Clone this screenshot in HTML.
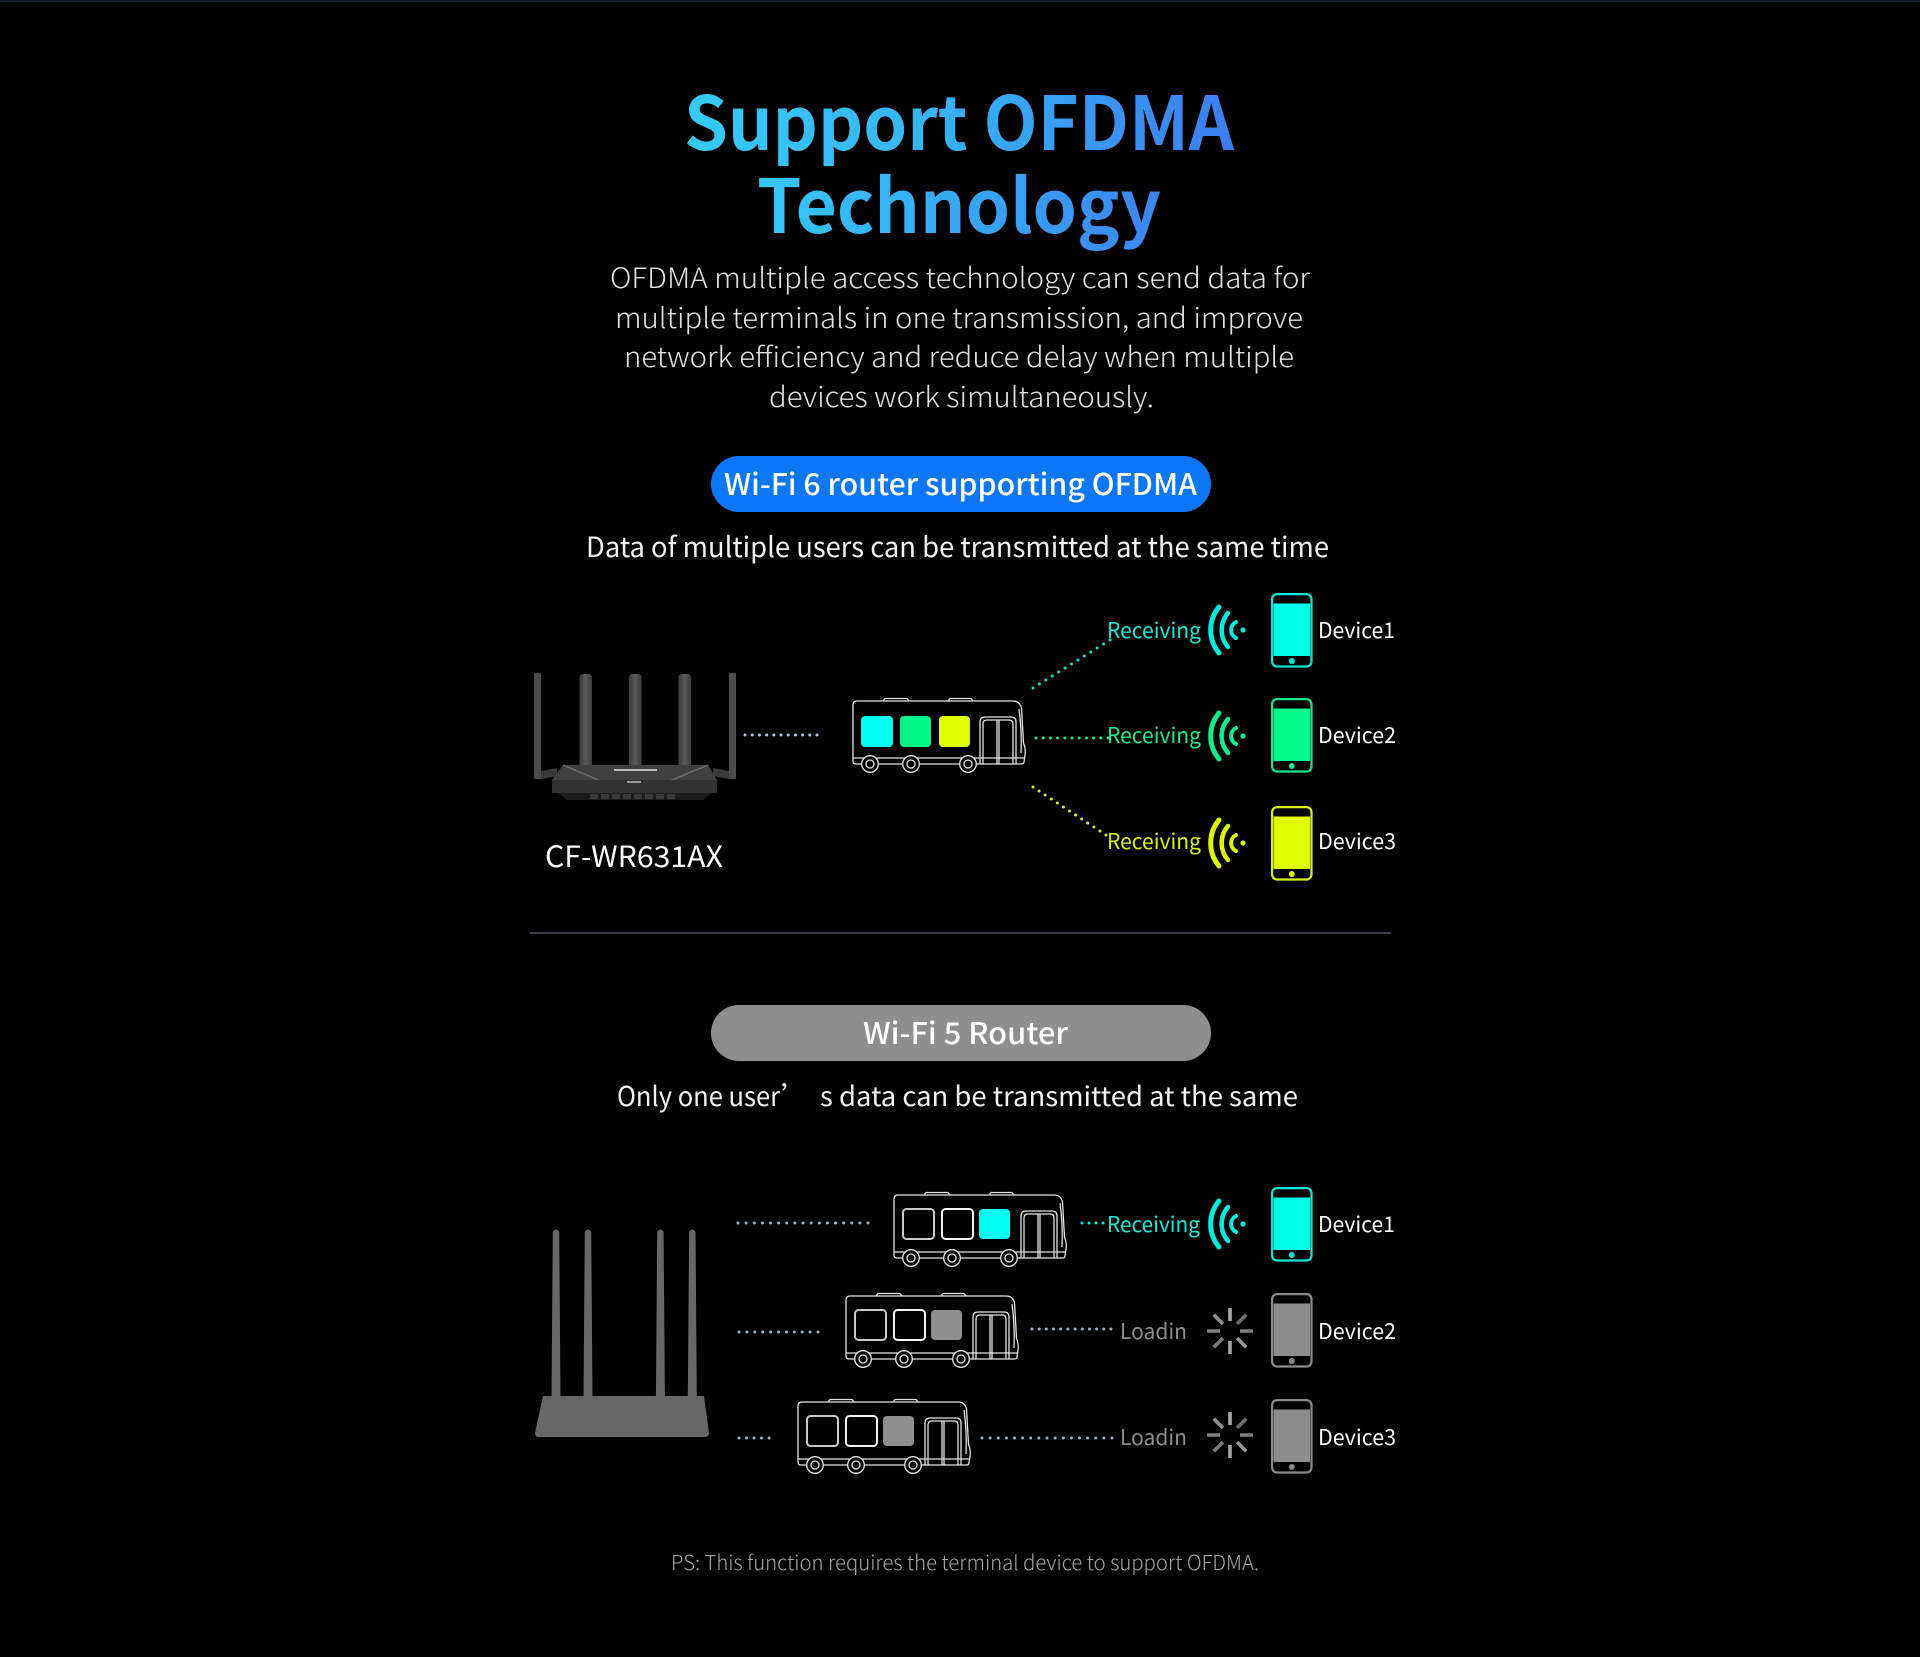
<!DOCTYPE html>
<html><head><meta charset="utf-8">
<style>
html,body{margin:0;padding:0;background:#000;}
body{width:1920px;height:1657px;overflow:hidden;}
svg{display:block;}
text{font-family:"Noto Sans CJK SC","Liberation Sans",sans-serif;}
</style></head><body>
<svg width="1920" height="1657" viewBox="0 0 1920 1657" xmlns="http://www.w3.org/2000/svg" xmlns:xlink="http://www.w3.org/1999/xlink">
<defs>
<linearGradient id="t1" gradientUnits="userSpaceOnUse" x1="686" y1="0" x2="1232" y2="0">
<stop offset="0" stop-color="#36cbf8"/><stop offset="0.45" stop-color="#36b4f6"/><stop offset="1" stop-color="#3c7ef0"/></linearGradient>
<linearGradient id="t2" gradientUnits="userSpaceOnUse" x1="758" y1="0" x2="1160" y2="0">
<stop offset="0" stop-color="#34c9f7"/><stop offset="1" stop-color="#3b86f1"/></linearGradient>
<linearGradient id="ant" x1="0" y1="0" x2="1" y2="0">
<stop offset="0" stop-color="#3c3c3c"/><stop offset="0.5" stop-color="#5a5a5a"/><stop offset="1" stop-color="#3c3c3c"/></linearGradient>

<g id="busBody" fill="none" stroke="#e4e4e4" stroke-width="1.3">
 <path d="M4,0 H160 Q167,0 168.5,7 L170.5,42 Q173,48 172,54 L171,61 Q171,63 168,63 H3 Q0,63 0,60 V4 Q0,0 4,0 Z"/>
 <path d="M30,0 L32,-2.5 H54 L56,0 M95,0 L97,-2.5 H118 L120,0"/>
 <path d="M0,57 H171"/>
 <path d="M127,63 V21 Q127,16 132,16 H158 Q163,16 163,21 V63"/>
 <path d="M130,63 V23 Q130,19 134,19 H156 Q160,19 160,23 V63"/>
 <path d="M144,19 V63 M146,19 V63"/>
 <path d="M166,8 Q169,30 168,52"/>
 <circle cx="17" cy="63" r="8.3" fill="#000"/><circle cx="17" cy="63" r="4"/>
 <circle cx="58" cy="63" r="8.3" fill="#000"/><circle cx="58" cy="63" r="4"/>
 <circle cx="115" cy="63" r="8.3" fill="#000"/><circle cx="115" cy="63" r="4"/>
</g>

<g id="wifi" fill="none" stroke-linecap="round">
 <path d="M-24,-23 A36,36 0 0 0 -24,23" stroke-width="5"/>
 <path d="M-15,-17 A26,26 0 0 0 -15,17" stroke-width="4.5"/>
 <path d="M-7,-8 A9,9 0 0 0 -7,8" stroke-width="4"/>
</g>

<g id="spin" stroke-width="3.6">
 <line x1="0" y1="-10" x2="0" y2="-23" stroke="#a8a8a8"/>
 <line x1="7.1" y1="-7.1" x2="16.3" y2="-16.3" stroke="#6c6c6c"/>
 <line x1="10" y1="0" x2="23" y2="0" stroke="#7a7a7a"/>
 <line x1="7.1" y1="7.1" x2="16.3" y2="16.3" stroke="#959595"/>
 <line x1="0" y1="10" x2="0" y2="23" stroke="#a5a5a5"/>
 <line x1="-7.1" y1="7.1" x2="-16.3" y2="16.3" stroke="#7a7a7a"/>
 <line x1="-10" y1="0" x2="-23" y2="0" stroke="#7e7e7e"/>
 <line x1="-7.1" y1="-7.1" x2="-16.3" y2="-16.3" stroke="#8e8e8e"/>
</g>
</defs>

<rect x="0" y="0" width="1920" height="1657" fill="#000"/>
<rect x="0" y="0" width="1920" height="2" fill="#151a22"/>

<!-- Title -->
<text x="684" y="150" font-size="74" font-weight="700" textLength="550" lengthAdjust="spacingAndGlyphs" fill="url(#t1)">Support OFDMA</text>
<text x="757" y="233" font-size="74" font-weight="700" textLength="404" lengthAdjust="spacingAndGlyphs" fill="url(#t2)">Technology</text>

<!-- Paragraph -->
<g font-size="28" font-weight="300" fill="#e2e2e2">
<text x="610" y="288" textLength="700" lengthAdjust="spacingAndGlyphs">OFDMA multiple access technology can send data for</text>
<text x="615" y="328" textLength="688" lengthAdjust="spacingAndGlyphs">multiple terminals in one transmission, and improve</text>
<text x="624" y="367" textLength="670" lengthAdjust="spacingAndGlyphs">network efficiency and reduce delay when multiple</text>
<text x="769" y="407" textLength="385" lengthAdjust="spacingAndGlyphs">devices work simultaneously.</text>
</g>

<!-- Wi-Fi 6 pill -->
<rect x="711" y="456" width="500" height="56" rx="28" fill="#0c77f6"/>
<text x="724" y="495" font-size="30" font-weight="500" fill="#fff" textLength="473" lengthAdjust="spacingAndGlyphs">Wi-Fi 6 router supporting OFDMA</text>
<text x="586" y="557" font-size="28" fill="#f2f2f2" textLength="743" lengthAdjust="spacingAndGlyphs">Data of multiple users can be transmitted at the same time</text>

<!-- Top router -->
<g>
 <rect x="534" y="673" width="7" height="106" rx="1.5" fill="#4c4c4c"/>
 <rect x="729" y="673" width="7" height="106" rx="1.5" fill="#4c4c4c"/>
 <path d="M541,771 L557,768 L557,776 L541,779 Z" fill="#3a3a3a"/>
 <path d="M729,771 L713,768 L713,776 L729,779 Z" fill="#3a3a3a"/>
 <rect x="579.5" y="674" width="12.5" height="94" rx="3" fill="url(#ant)"/>
 <rect x="629" y="674" width="12.5" height="94" rx="3" fill="url(#ant)"/>
 <rect x="678.5" y="674" width="12.5" height="94" rx="3" fill="url(#ant)"/>
 <polygon points="563,765 708,765 717,780 552,780" fill="#404040"/>
 <path d="M563,765 L603,782 M708,765 L667,782" stroke="#707070" stroke-width="1.3"/>
 <rect x="552" y="780" width="165" height="13" fill="#323232"/>
 <polygon points="558,793 712,793 703,800 567,800" fill="#1c1c1c"/>
 <g fill="#3a3a3a">
  <rect x="590" y="794" width="8" height="5"/><rect x="601" y="794" width="8" height="5"/><rect x="612" y="794" width="8" height="5"/>
  <rect x="623" y="794" width="8" height="5"/><rect x="634" y="794" width="8" height="5"/><rect x="645" y="794" width="8" height="5"/>
  <rect x="656" y="794" width="8" height="5"/><rect x="667" y="794" width="8" height="5"/>
 </g>
 <rect x="614" y="769" width="43" height="2" fill="#bbbbbb"/>
 <rect x="627" y="781" width="14" height="2" fill="#999"/>
</g>
<text x="545" y="867" font-size="29" fill="#fff" textLength="178" lengthAdjust="spacingAndGlyphs">CF-WR631AX</text>

<!-- Top dotted lines -->
<g fill="none" stroke-width="3" stroke-linecap="round">
 <line x1="745" y1="735" x2="817.5" y2="735" stroke="#b4c6e4" stroke-dasharray="0 7.2"/>
 <line x1="1033" y1="688" x2="1110.5" y2="639.7" stroke="#00e8dc" stroke-dasharray="0 7.56"/>
 <line x1="1036" y1="738" x2="1108.5" y2="738" stroke="#10ec8c" stroke-dasharray="0 7.2"/>
 <line x1="1033" y1="787" x2="1106.5" y2="835.3" stroke="#d6f200" stroke-dasharray="0 7.28"/>
</g>

<!-- Top bus -->
<g transform="translate(853,701)">
 <rect x="8" y="15" width="32" height="31" rx="4" fill="#00fff0"/>
 <rect x="47" y="15" width="31" height="31" rx="4" fill="#00f589"/>
 <rect x="86" y="15" width="31" height="31" rx="4" fill="#e0ff00"/>
 <use xlink:href="#busBody"/>
</g>

<!-- Top receiving rows -->
<g font-size="21.5">
 <text x="1107" y="638" fill="#16e8da" textLength="94" lengthAdjust="spacingAndGlyphs">Receiving</text>
 <text x="1107" y="743" fill="#12ea8e" textLength="94" lengthAdjust="spacingAndGlyphs">Receiving</text>
 <text x="1107" y="849" fill="#d8f200" textLength="94" lengthAdjust="spacingAndGlyphs">Receiving</text>
 <text x="1318" y="638" fill="#fff" textLength="77" lengthAdjust="spacingAndGlyphs">Device1</text>
 <text x="1318" y="743" fill="#fff" textLength="78" lengthAdjust="spacingAndGlyphs">Device2</text>
 <text x="1318" y="849" fill="#fff" textLength="78" lengthAdjust="spacingAndGlyphs">Device3</text>
</g>
<use xlink:href="#wifi" transform="translate(1243,630)" stroke="#00ecdf"/>
<circle cx="1243" cy="630" r="2.6" fill="#00ecdf"/>
<use xlink:href="#wifi" transform="translate(1243,736)" stroke="#10ee8c"/>
<circle cx="1243" cy="736" r="2.6" fill="#10ee8c"/>
<use xlink:href="#wifi" transform="translate(1243,843)" stroke="#dcf500"/>
<circle cx="1243" cy="843" r="2.6" fill="#dcf500"/>

<!-- Top phones -->
<g transform="translate(1271,593)">
 <rect x="1.1" y="1.1" width="39.4" height="72.4" rx="5" fill="none" stroke="#00e8dc" stroke-width="2.2"/>
 <rect x="2.6" y="10.5" width="36.4" height="52.5" fill="#00ffe8"/>
 <circle cx="20.8" cy="68" r="3" fill="#00e8dc"/>
</g>
<g transform="translate(1271,698)">
 <rect x="1.1" y="1.1" width="39.4" height="72.4" rx="5" fill="none" stroke="#10ea8c" stroke-width="2.2"/>
 <rect x="2.6" y="10.5" width="36.4" height="52.5" fill="#00fa8a"/>
 <circle cx="20.8" cy="68" r="3" fill="#10ea8c"/>
</g>
<g transform="translate(1271,806)">
 <rect x="1.1" y="1.1" width="39.4" height="72.4" rx="5" fill="none" stroke="#d8f200" stroke-width="2.2"/>
 <rect x="2.6" y="10.5" width="36.4" height="52.5" fill="#e0ff00"/>
 <circle cx="20.8" cy="68" r="3" fill="#d8f200"/>
</g>

<!-- Separator -->
<rect x="530" y="932" width="861" height="2" fill="#3a3c47"/>

<!-- Wi-Fi 5 pill -->
<rect x="711" y="1005" width="500" height="56" rx="28" fill="#8e8e8e"/>
<text x="863" y="1044" font-size="30" font-weight="500" fill="#fff" textLength="205" lengthAdjust="spacingAndGlyphs">Wi-Fi 5 Router</text>
<g font-size="27" fill="#f2f2f2">
 <text x="617" y="1106" textLength="163" lengthAdjust="spacingAndGlyphs">Only one user</text>
 <text x="781" y="1106">’</text>
 <text x="820" y="1106" textLength="478" lengthAdjust="spacingAndGlyphs">s data can be transmitted at the same</text>
</g>

<!-- Bottom router -->
<g fill="#676767">
 <path d="M552.8,1232 Q556,1227 559.2,1232 L560.5,1397 L551.5,1397 Z"/>
 <path d="M584.8,1232 Q588,1227 591.2,1232 L592.5,1397 L583.5,1397 Z"/>
 <path d="M657.2,1232 Q660.4,1227 663.6,1232 L664.9,1397 L655.9,1397 Z"/>
 <path d="M689.1,1232 Q692.3,1227 695.5,1232 L696.8,1397 L687.8,1397 Z"/>
 <path d="M543,1396 L704,1396 L709,1433 Q709,1437 705,1437 L539,1437 Q535,1437 535,1433 Z"/>
</g>

<!-- Bottom dotted lines -->
<g fill="none" stroke-width="3" stroke-linecap="round" stroke="#a3b1c8">
 <line x1="738" y1="1223" x2="868.5" y2="1223" stroke-dasharray="0 8.125"/>
 <line x1="739" y1="1332" x2="818.5" y2="1332" stroke-dasharray="0 7.9"/>
 <line x1="739" y1="1438" x2="769.5" y2="1438" stroke-dasharray="0 7.5"/>
 <line x1="1032" y1="1329" x2="1111.5" y2="1329" stroke-dasharray="0 7.18"/>
 <line x1="982" y1="1438" x2="1112.5" y2="1438" stroke-dasharray="0 8.125"/>
 <line x1="1082" y1="1223" x2="1103.5" y2="1223" stroke="#00e8dc" stroke-dasharray="0 7"/>
</g>

<!-- Bottom buses -->
<g transform="translate(894,1195)">
 <rect x="9" y="14" width="31" height="30" rx="3.5" fill="#000" stroke="#c8c8c8" stroke-width="2"/>
 <rect x="48" y="14" width="31" height="30" rx="3.5" fill="#000" stroke="#f4f4f4" stroke-width="2"/>
 <rect x="85" y="14" width="31" height="30" rx="4" fill="#00fff0"/>
 <use xlink:href="#busBody"/>
</g>
<g transform="translate(846,1296)">
 <rect x="9" y="14" width="31" height="30" rx="3.5" fill="#000" stroke="#c8c8c8" stroke-width="2"/>
 <rect x="48" y="14" width="31" height="30" rx="3.5" fill="#000" stroke="#f4f4f4" stroke-width="2"/>
 <rect x="85" y="14" width="31" height="30" rx="4" fill="#8f8f8f"/>
 <use xlink:href="#busBody"/>
</g>
<g transform="translate(798,1402)">
 <rect x="9" y="14" width="31" height="30" rx="3.5" fill="#000" stroke="#c8c8c8" stroke-width="2"/>
 <rect x="48" y="14" width="31" height="30" rx="3.5" fill="#000" stroke="#f4f4f4" stroke-width="2"/>
 <rect x="85" y="14" width="31" height="30" rx="4" fill="#8f8f8f"/>
 <use xlink:href="#busBody"/>
</g>

<!-- Bottom right side -->
<g font-size="21.5">
 <text x="1107" y="1232" fill="#16e8da" textLength="93" lengthAdjust="spacingAndGlyphs">Receiving</text>
 <text x="1120" y="1339" fill="#8d8d8d" textLength="67" lengthAdjust="spacingAndGlyphs">Loadin</text>
 <text x="1120" y="1445" fill="#8d8d8d" textLength="67" lengthAdjust="spacingAndGlyphs">Loadin</text>
 <text x="1318" y="1232" fill="#fff" textLength="77" lengthAdjust="spacingAndGlyphs">Device1</text>
 <text x="1318" y="1339" fill="#fff" textLength="78" lengthAdjust="spacingAndGlyphs">Device2</text>
 <text x="1318" y="1445" fill="#fff" textLength="78" lengthAdjust="spacingAndGlyphs">Device3</text>
</g>
<use xlink:href="#wifi" transform="translate(1243,1224)" stroke="#00ecdf"/>
<circle cx="1243" cy="1224" r="2.6" fill="#00ecdf"/>
<use xlink:href="#spin" transform="translate(1230,1331)"/>
<use xlink:href="#spin" transform="translate(1230,1435)"/>

<g transform="translate(1271,1187)">
 <rect x="1.1" y="1.1" width="39.4" height="72.4" rx="5" fill="none" stroke="#00e8dc" stroke-width="2.2"/>
 <rect x="2.6" y="10.5" width="36.4" height="52.5" fill="#00ffe8"/>
 <circle cx="20.8" cy="68" r="3" fill="#00e8dc"/>
</g>
<g transform="translate(1271,1293)">
 <rect x="1.1" y="1.1" width="39.4" height="72.4" rx="5" fill="none" stroke="#8a8a8a" stroke-width="2.2"/>
 <rect x="2.6" y="10.5" width="36.4" height="52.5" fill="#8c8c8c"/>
 <circle cx="20.8" cy="68" r="3" fill="#8a8a8a"/>
</g>
<g transform="translate(1271,1399)">
 <rect x="1.1" y="1.1" width="39.4" height="72.4" rx="5" fill="none" stroke="#8a8a8a" stroke-width="2.2"/>
 <rect x="2.6" y="10.5" width="36.4" height="52.5" fill="#8c8c8c"/>
 <circle cx="20.8" cy="68" r="3" fill="#8a8a8a"/>
</g>

<!-- PS -->
<text x="671" y="1570" font-size="20.5" font-weight="300" fill="#a6a6a6" textLength="588" lengthAdjust="spacingAndGlyphs">PS: This function requires the terminal device to support OFDMA.</text>
</svg>
</body></html>
